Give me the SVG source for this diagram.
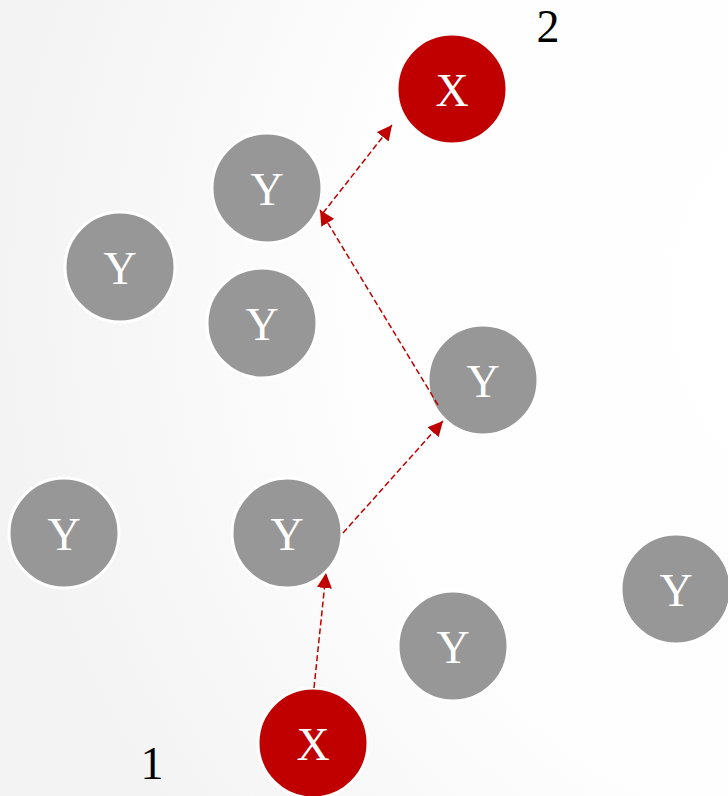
<svg xmlns="http://www.w3.org/2000/svg" width="728" height="796" viewBox="0 0 728 796">
<defs>
<radialGradient id="bg" cx="900" cy="300" r="900" gradientUnits="userSpaceOnUse">
<stop offset="0" stop-color="#ffffff"/>
<stop offset="0.6" stop-color="#fefefe"/>
<stop offset="1" stop-color="#f3f3f3"/>
</radialGradient>
<marker id="arr" viewBox="0 0 12 12" refX="12" refY="6" markerWidth="15" markerHeight="15" markerUnits="userSpaceOnUse" orient="auto">
<path d="M0,0 L12,6 L0,12 z" fill="#c00000"/>
</marker>
</defs>
<style>
.y circle{fill:#979797;stroke:#ffffff;stroke-width:3}
.x circle{fill:#c00000;stroke:#ffffff;stroke-width:3}
.n text{font-family:"Liberation Serif","DejaVu Serif",serif;font-size:46px;fill:#ffffff;text-anchor:middle}
.lbl{font-family:"Liberation Serif","DejaVu Serif",serif;font-size:46px;fill:#000000;text-anchor:middle}
.c{stroke:#c00000;stroke-width:1.5;stroke-dasharray:6 3;fill:none;marker-end:url(#arr)}
</style>
<rect width="728" height="796" fill="url(#bg)"/>
<g id="node-x2" class="n x"><circle cx="452" cy="89" r="55"/><text x="452" y="106">X</text></g>
<g id="node-y1" class="n y"><circle cx="267" cy="188" r="55"/><text x="267" y="205">Y</text></g>
<g id="node-y2" class="n y"><circle cx="120" cy="267" r="55"/><text x="120" y="284">Y</text></g>
<g id="node-y3" class="n y"><circle cx="262" cy="323" r="55"/><text x="262" y="340">Y</text></g>
<g id="node-y4" class="n y"><circle cx="483" cy="380" r="55"/><text x="483" y="397">Y</text></g>
<g id="node-y5" class="n y"><circle cx="64" cy="533" r="55"/><text x="64" y="550">Y</text></g>
<g id="node-y6" class="n y"><circle cx="287" cy="533" r="55"/><text x="287" y="550">Y</text></g>
<g id="node-y7" class="n y"><circle cx="676" cy="589" r="55"/><text x="676" y="606">Y</text></g>
<g id="node-y8" class="n y"><circle cx="453" cy="646" r="55"/><text x="453" y="663">Y</text></g>
<g id="node-x1" class="n x"><circle cx="313" cy="743" r="55"/><text x="313" y="760">X</text></g>
<g id="connectors">
<line class="c" x1="314" y1="688" x2="326" y2="573"/>
<line class="c" x1="343" y1="533" x2="443" y2="421"/>
<line class="c" x1="438" y1="405" x2="320" y2="210"/>
<line class="c" x1="323" y1="213" x2="392" y2="125"/>
</g>
<g id="labels">
<text class="lbl" x="548" y="42">2</text>
<text class="lbl" x="152" y="779">1</text>
</g>
</svg>
